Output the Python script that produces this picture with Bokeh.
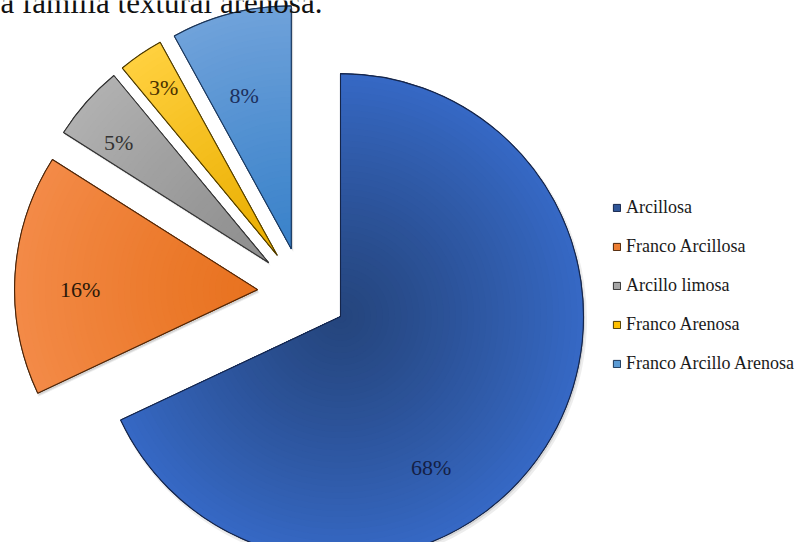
import math
import numpy as np
from bokeh.plotting import figure
from bokeh.models import Range1d, Legend, LegendItem, ColumnDataSource, Label
from bokeh.embed import file_html
from bokeh.resources import INLINE
from bokeh.core.properties import value

# ---- data ----
categories = ["Arcillosa", "Franco Arcillosa", "Arcillo limosa", "Franco Arenosa", "Franco Arcillo Arenosa"]
percentages = [68, 16, 5, 3, 8]
percent_labels = ["68%", "16%", "5%", "3%", "8%"]
title_text = "a familia textural arenosa."

# ---- styles / layout ----
W, H = 796, 542
inner_colors = ["#25457d", "#e8721f", "#8e8e8e", "#eaae00", "#3a82ca"]
outer_colors = ["#3668c4", "#f38a47", "#b0b0b0", "#ffd03e", "#6fa2da"]
legend_colors = ["#2f5597", "#ed7d31", "#a5a5a5", "#ffc000", "#5b9bd5"]
line_colors = ["#15254a", "#4a2408", "#303030", "#4a3800", "#1b3558"]
label_colors = ["#141f45", "#2a1808", "#333333", "#4a3200", "#1c2f5c"]
label_theta = [149.0, 270.0, 308.6, 325.9, 342.9]   # clockwise from 12 o'clock
label_rho = [0.724, 0.73, 0.79, 0.834, 0.66]
CX, CY = 302.0, H - 292.0
R = 243.0
EXPLODE = 45.0
NRING = 40
FONT = "Liberation Serif"
LEG_TOP = 196.5
LEG_ROW, LEG_GAP, LEG_N = 21, 18, 5


def mix(c1, c2, t):
    a = [int(c1[i:i + 2], 16) for i in (1, 3, 5)]
    b = [int(c2[i:i + 2], 16) for i in (1, 3, 5)]
    return "#" + "".join("%02x" % int(round(a[k] + (b[k] - a[k]) * t)) for k in range(3))


p = figure(width=W, height=H, x_range=Range1d(0, W), y_range=Range1d(0, H),
           output_backend="svg", toolbar_location=None, min_border=0)
p.axis.visible = False
p.grid.visible = False
p.outline_line_color = None
p.background_fill_color = "white"

total = float(sum(percentages))
cum = 0.0
legend_items = []
lab_x, lab_y, lab_t, lab_c = [], [], [], []
for i, v in enumerate(percentages):
    t1 = cum / total * 360.0
    t2 = (cum + v) / total * 360.0
    cum += v
    mid = math.radians((t1 + t2) / 2.0)
    ax = CX + EXPLODE * math.sin(mid)
    ay = CY + EXPLODE * math.cos(mid)
    sa = math.radians(90.0 - t2)
    ea = math.radians(90.0 - t1)

    # soft shadow
    p.wedge(x=ax + 2, y=ay - 3, radius=R + 1.5, start_angle=sa, end_angle=ea,
            fill_color="black", fill_alpha=0.07, line_color=None)
    p.wedge(x=ax + 1.5, y=ay - 2, radius=R, start_angle=sa, end_angle=ea,
            fill_color="black", fill_alpha=0.10, line_color=None)

    base = p.wedge(x=ax, y=ay, radius=R, start_angle=sa, end_angle=ea,
                   fill_color=legend_colors[i], line_color=line_colors[i], line_width=1)
    legend_items.append(LegendItem(label=categories[i], renderers=[base]))

    radii = np.linspace(R, R / NRING, NRING)
    cols = [mix(inner_colors[i], outer_colors[i], (rr / R) ** 1.2) for rr in radii]
    src = ColumnDataSource(dict(r=list(radii), c=cols))
    p.wedge(x=ax, y=ay, radius="r", start_angle=sa, end_angle=ea,
            fill_color="c", line_color=None, source=src)
    p.wedge(x=ax, y=ay, radius=R, start_angle=sa, end_angle=ea,
            fill_color=None, line_color=line_colors[i], line_width=1.1)

    lt = math.radians(label_theta[i])
    lab_x.append(ax + label_rho[i] * R * math.sin(lt))
    lab_y.append(ay + label_rho[i] * R * math.cos(lt))
    lab_t.append(percent_labels[i])
    lab_c.append(label_colors[i])

lsrc = ColumnDataSource(dict(x=lab_x, y=lab_y, t=lab_t, c=lab_c))
p.text(x="x", y="y", text="t", text_color="c", source=lsrc,
       text_font=value(FONT), text_font_size="22px",
       text_align="center", text_baseline="middle")

p.add_layout(Label(x=0, y=H - 2, text=title_text, text_font=FONT,
                   text_font_size="31px", text_color="#111111",
                   text_baseline="alphabetic", text_align="left"))

leg_h = LEG_N * LEG_ROW + (LEG_N - 1) * LEG_GAP
legend = Legend(items=legend_items, location=(612, H - LEG_TOP - leg_h))
legend.background_fill_alpha = 0
legend.border_line_color = None
legend.padding = 0
legend.margin = 0
legend.spacing = LEG_GAP
legend.glyph_height = 9
legend.glyph_width = 9
legend.label_height = LEG_ROW
legend.label_standoff = 5
legend.label_text_font = FONT
legend.label_text_font_size = "18px"
legend.label_text_color = "#1a1a1a"
legend.label_text_baseline = "middle"
p.add_layout(legend)

open("out.html", "w").write(file_html(p, INLINE))
